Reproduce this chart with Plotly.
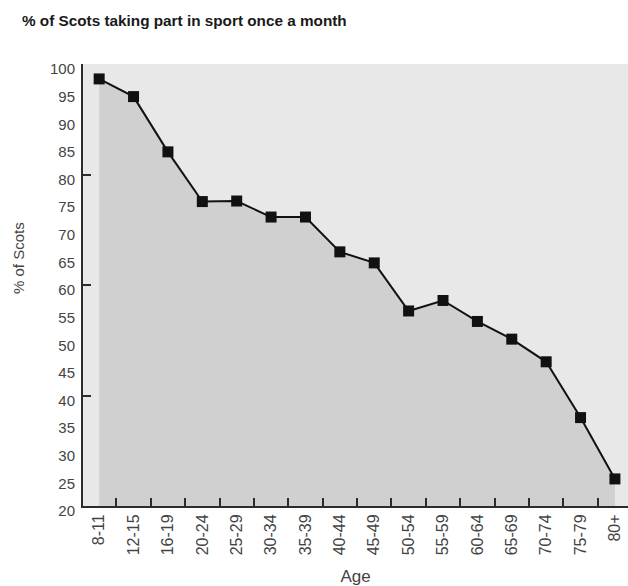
import plotly.graph_objects as go

ages = ["8-11", "12-15", "16-19", "20-24", "25-29", "30-34", "35-39", "40-44",
        "45-49", "50-54", "55-59", "60-64", "65-69", "70-74", "75-79", "80+"]
pct_scots = [97.3, 94.1, 84.1, 75.1, 75.2, 72.3, 72.3, 66.0,
             64.0, 55.3, 57.2, 53.4, 50.2, 46.1, 36.0, 24.9]
y_label_ticks = list(range(20, 101, 5))
y_mark_ticks = [20, 40, 60, 80, 100]

FONT = "Liberation Sans, Arial, sans-serif"
AXIS = "#2b2b2b"
LABEL = "#444444"

W, H = 628, 586
L, R, T, B = 83, 0, 64, 80

fig = go.Figure()
fig.add_trace(go.Scatter(
    x=ages, y=pct_scots, mode="lines+markers",
    line=dict(color="#111111", width=2),
    marker=dict(symbol="square", size=11, color="#111111"),
    fill="tozeroy", fillcolor="#d0d0d0",
    showlegend=False, hoverinfo="x+y",
))
# invisible trace on helper axis that only carries the tick marks
fig.add_trace(go.Scatter(x=[ages[0]], y=[None], yaxis="y2", showlegend=False,
                         hoverinfo="skip"))

pw, ph = W - L - R, H - T - B

fig.update_layout(
    width=W, height=H,
    margin=dict(l=L, r=R, t=T, b=B),
    paper_bgcolor="white", plot_bgcolor="#e8e8e8",
    font=dict(family=FONT, color=LABEL, size=15),
    title=dict(text="<b>% of Scots taking part in sport once a month</b>",
               x=22 / W, xanchor="left", y=1 - 21 / H, yanchor="middle",
               font=dict(family=FONT, size=15.3, color="#1a1a1a")),
    xaxis=dict(type="category", categoryorder="array", categoryarray=ages,
               range=[-0.47, 15.38], tickson="boundaries",
               ticks="inside", ticklen=8, tickwidth=2, tickcolor=AXIS,
               tickangle=-90, showgrid=False, zeroline=False,
               showline=True, linecolor=AXIS, linewidth=2,
               tickfont=dict(size=16, color=LABEL),
               title=dict(text="Age", font=dict(size=17, color=LABEL), standoff=16)),
    yaxis=dict(range=[20, 100], tickvals=y_label_ticks, ticks="",
               ticklabelshift=5, ticklabelstandoff=3,
               showgrid=False, zeroline=False,
               showline=True, linecolor=AXIS, linewidth=2,
               tickfont=dict(size=15, color=LABEL)),
    yaxis2=dict(range=[20, 100], overlaying="y", side="left",
                tickvals=y_mark_ticks, ticks="inside", ticklen=8, tickwidth=2,
                tickcolor=AXIS, showticklabels=False, showgrid=False,
                zeroline=False, showline=False),
    annotations=[dict(text="% of Scots", textangle=-90,
                      x=(18 - L) / pw, y=(H - B - 258) / ph,
                      xref="paper", yref="paper", showarrow=False,
                      xanchor="center", yanchor="middle",
                      font=dict(size=15, color=LABEL))],
)

fig.write_html("out.html",
               config={"displayModeBar": False},
               post_script="document.body.style.margin='0';"
                           "document.body.style.overflow='hidden';")
